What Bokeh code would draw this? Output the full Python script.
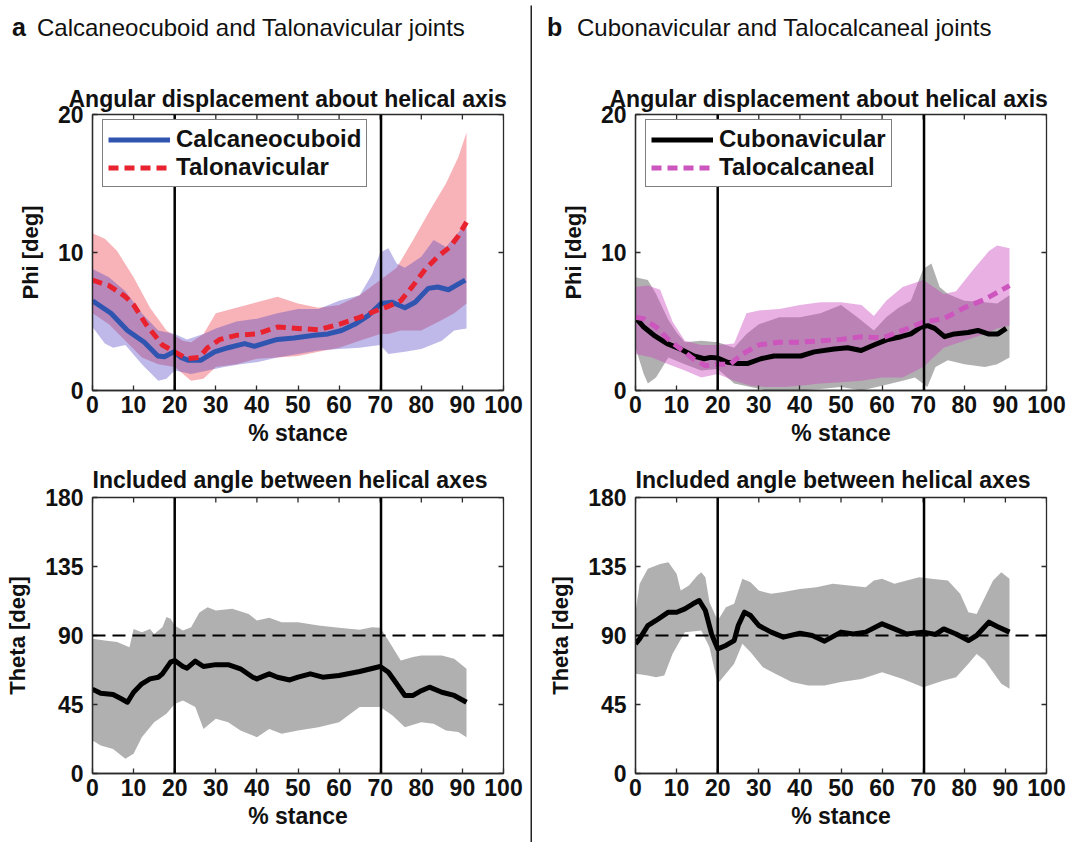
from bokeh.plotting import figure
from bokeh.models import FixedTicker, Legend, LegendItem, Span, Range1d, Title, Div
from bokeh.layouts import row, column
from bokeh.embed import file_html
from bokeh.resources import INLINE

# ---------------------------------------------------------------- data
stance_ticks = [0, 10, 20, 30, 40, 50, 60, 70, 80, 90, 100]
phi_ticks = [0, 10, 20]
theta_ticks = [0, 45, 90, 135, 180]
phase_marks = [20, 70.2]          # % stance where the phases change
orthogonal = 90                   # reference angle between axes

# Calcaneocuboid: mean phi and +/- SD band
cc_x = [0, 4.5, 8.5, 12.6, 15.9, 17.5, 19.8, 21.5, 23.2, 26.4, 29.7, 33, 37, 39.4, 42.7,
        45, 49, 54, 57.3, 60.6, 63.8, 67, 70.2, 72.8, 76, 78.5, 81.7, 84, 86.6, 90.7]
cc_phi = [6.5, 5.6, 4.35, 3.5, 2.5, 2.45, 2.8, 2.4, 2.2, 2.2, 2.8, 3.1, 3.4, 3.2, 3.5,
          3.7, 3.8, 4.0, 4.1, 4.35, 4.8, 5.4, 6.3, 6.4, 6.0, 6.4, 7.4, 7.5, 7.3, 8.0]
cc_hi_x = [0, 4, 8, 12, 16, 20, 23, 27, 30, 35, 40, 45, 50, 55, 60, 65, 68, 70, 72, 74,
           76, 80, 83, 86, 90, 91]
cc_hi = [8.8, 8.2, 7.2, 5.6, 4.35, 4.1, 3.7, 4.1, 4.5, 5.0, 5.2, 5.6, 5.9, 5.9, 6.5, 6.9,
         8.4, 10.0, 10.3, 9.2, 8.9, 9.7, 10.9, 10.4, 11.8, 11.8]
cc_lo_x = [0, 3, 5, 8, 12, 16, 18, 20, 24, 28, 32, 36, 40, 45, 50, 55, 60, 65, 70, 72,
           76, 80, 85, 88, 91]
cc_lo = [4.6, 3.4, 3.1, 3.3, 1.9, 0.7, 0.85, 1.45, 1.2, 1.45, 1.7, 1.9, 2.05, 2.4, 2.65,
         2.9, 3.0, 3.1, 3.3, 2.65, 2.8, 3.0, 3.6, 4.35, 4.5]

# Talonavicular
tn_x = [0, 4, 8, 10, 13, 17, 20, 23, 26, 28, 31, 35, 40, 45, 50, 55, 60, 65, 70, 72, 75,
        78, 81, 84, 87, 89, 91]
tn_phi = [8.0, 7.6, 6.8, 6.2, 4.8, 3.3, 2.8, 2.3, 2.4, 3.1, 3.7, 4.0, 4.1, 4.6, 4.5, 4.4,
          4.8, 5.3, 5.9, 6.1, 6.5, 7.6, 8.8, 9.7, 10.4, 11.2, 12.2]
tn_hi_x = [0, 3, 6, 10, 14, 18, 22, 24, 27, 30, 35, 40, 45, 50, 55, 60, 65, 70, 74, 78,
           82, 86, 89, 91]
tn_hi = [11.4, 11.0, 10.1, 8.2, 6.0, 4.35, 3.6, 3.5, 4.1, 5.6, 6.0, 6.4, 6.8, 6.3, 6.0,
         6.2, 6.9, 8.0, 8.9, 10.9, 13.0, 15.0, 16.9, 18.7]
tn_lo_x = [0, 4, 8, 12, 16, 20, 24, 27, 30, 35, 40, 45, 50, 55, 60, 65, 70, 72, 75, 80,
           85, 88, 91]
tn_lo = [5.6, 4.8, 3.6, 2.4, 1.9, 1.7, 0.7, 0.85, 1.7, 1.9, 2.3, 2.4, 2.5, 2.8, 3.1, 3.6,
         4.1, 4.1, 4.35, 4.35, 5.1, 5.6, 6.3]

# Cubonavicular
cn_x = [0, 2, 4.5, 7.7, 11, 14.2, 16.7, 18.3, 20, 22.4, 24.8, 27.2, 30.5, 33.7, 37, 40.2,
        43.5, 48.4, 51.6, 54.9, 58, 61.4, 64.6, 67, 69.5, 71.1, 72.8, 75.2, 77.6, 80.9,
        83.3, 85.8, 88.2, 90.2]
cn_phi = [5.3, 4.6, 4.0, 3.4, 3.0, 2.5, 2.3, 2.4, 2.35, 2.05, 1.95, 1.95, 2.3, 2.5, 2.5,
          2.5, 2.8, 3.0, 3.1, 2.9, 3.3, 3.7, 3.9, 4.1, 4.6, 4.7, 4.5, 3.9, 4.1, 4.2, 4.35,
          4.1, 4.1, 4.5]
cn_hi_x = [0, 3, 5, 8, 10, 12, 16, 20, 24, 27, 30, 35, 40, 45, 50, 54, 58, 61, 64, 67,
           70, 72, 74, 76, 80, 85, 88, 91]
cn_hi = [8.2, 8.0, 7.0, 5.1, 4.2, 3.5, 3.6, 3.5, 3.1, 4.1, 4.8, 5.3, 5.3, 5.6, 6.2, 5.3,
         4.35, 5.3, 6.0, 6.5, 8.8, 9.2, 7.5, 7.0, 6.5, 6.4, 6.3, 6.9]
cn_lo_x = [0, 2, 3, 5, 8, 12, 16, 20, 24, 28, 32, 40, 45, 50, 55, 60, 65, 68, 71, 73, 76,
           80, 85, 88, 91]
cn_lo = [3.1, 1.2, 0.5, 0.95, 2.4, 1.9, 1.45, 1.55, 0.5, 0.25, 0.0, 0.0, 0.1, 0.25, 0.0,
         0.35, 0.7, 0.95, 0.25, 1.7, 2.2, 1.9, 1.7, 1.9, 2.4]

# Talocalcaneal
tc_x = [0, 2, 5, 8, 11, 14, 17, 20, 23, 26, 30, 35, 40, 45, 50, 55, 60, 65, 70, 75, 80,
        85, 91]
tc_phi = [5.3, 5.2, 4.6, 3.7, 3.0, 2.3, 1.8, 1.9, 1.9, 2.65, 3.3, 3.5, 3.5, 3.6, 3.7, 3.9,
          3.8, 4.35, 4.95, 5.2, 6.0, 6.6, 7.6]
tc_hi_x = [0, 3, 6, 9, 12, 16, 20, 24, 27, 30, 35, 40, 45, 50, 55, 58, 61, 65, 70, 75,
           78, 82, 86, 88, 91]
tc_hi = [7.5, 7.6, 7.3, 5.0, 3.6, 3.3, 3.3, 3.4, 5.6, 5.8, 5.9, 6.2, 6.4, 6.4, 6.2, 5.4,
         6.5, 7.5, 8.0, 7.0, 7.2, 8.7, 10.1, 10.5, 10.3]
tc_lo_x = [0, 4, 8, 12, 16, 20, 24, 28, 32, 36, 40, 45, 50, 55, 60, 65, 70, 75, 80, 85,
           88, 91]
tc_lo = [2.65, 2.4, 1.9, 1.45, 0.95, 1.2, 0.7, 0.35, 0.25, 0.25, 0.35, 0.5, 0.6, 0.7,
         0.95, 0.95, 1.7, 3.1, 3.6, 4.1, 4.5, 4.7]

# Included angle between Calcaneocuboid and Talonavicular axes
ctn_x = [0, 2, 5, 7, 8.5, 10, 12, 14, 16, 17, 19, 20, 22, 23, 25, 27, 30, 33, 36, 39, 40,
         43, 45, 48, 50, 53, 56, 60, 65, 70, 72, 74, 76, 78, 80, 82, 85, 88, 91]
ctn_theta = [55, 52.4, 51.5, 48.7, 46.5, 53, 58.5, 61.7, 62.8, 65, 72.6, 73.7, 69.8, 68.7,
             73.3, 69.8, 71, 71, 68.3, 62.8, 61.7, 65, 62.8, 61, 62.8, 65, 62.8, 63.9,
             66.5, 69.8, 66, 58.5, 50.9, 50.9, 54, 56.3, 53, 50.9, 46.5]
ctn_hi_x = [0, 3, 6, 9, 10, 12, 14, 15, 17, 18, 19, 20, 22, 24, 26, 28, 30, 34, 38, 40,
            43, 46, 50, 55, 60, 65, 68, 70, 72, 75, 78, 80, 85, 88, 91]
ctn_hi = [87.8, 86.7, 85.7, 82.4, 94.3, 92.2, 94.3, 91, 95.4, 102, 101, 96.5, 93.3, 95.4,
          105, 108.5, 106.3, 107.4, 104, 99.8, 101.5, 98.7, 98.7, 96.5, 95, 93.7, 95.4,
          95, 86.7, 73.7, 75.9, 77, 77, 74.8, 68.3]
ctn_lo_x = [0, 2, 5, 8, 10, 12, 15, 18, 20, 22, 25, 27, 30, 33, 36, 40, 43, 46, 50, 55,
            60, 65, 70, 73, 76, 80, 83, 86, 89, 91]
ctn_lo = [21.5, 18.3, 16, 9.6, 12.8, 23.7, 33.5, 38.9, 45.4, 47.6, 43.3, 29.1, 35.7, 33.5,
          28, 23.7, 29.1, 25.9, 28, 30.2, 33.5, 43.3, 43.3, 37.8, 30.2, 33.5, 32.4, 28,
          27, 23.7]

# Included angle between Cubonavicular and Talocalcaneal axes
cnt_x = [0, 1, 3, 5, 8, 10, 12, 14, 15.5, 17, 18.5, 20, 22, 24, 25, 26.5, 28, 30, 33, 36,
         40, 43, 46, 50, 53, 56, 60, 63, 66, 70, 73, 75, 78, 81, 83, 86, 88, 91]
cnt_theta = [84.6, 87.8, 96.5, 99.8, 105.2, 105.2, 107.4, 110.7, 112.8, 106.3, 91, 81.3,
             83.5, 86.7, 96.5, 105.2, 103, 96.5, 92.2, 88.9, 91.5, 90, 86.3, 92.2, 91,
             92.2, 97.6, 94.3, 91, 92.2, 90.7, 94.3, 91, 86.7, 90, 98.7, 95.9, 92.2]
cnt_hi_x = [0, 1, 3, 6, 8, 10, 11, 13, 15, 16, 17, 18, 20, 21, 22, 24, 26, 28, 30, 33,
            36, 40, 44, 48, 52, 56, 58, 60, 63, 66, 69, 72, 76, 79, 81, 83, 85, 87, 89, 91]
cnt_hi = [105.2, 123.7, 133.5, 136.7, 137.8, 130.2, 119.3, 122.6, 129, 131.3, 128, 111.7,
          99.8, 104.1, 108.5, 110.7, 127, 124.8, 119.3, 117.2, 118.3, 120.4, 121.5, 123.7,
          122.6, 121.5, 125.9, 127, 123.7, 125.9, 128, 127, 125.9, 117.2, 105.2, 104.1,
          115, 125.9, 131.3, 127]
cnt_lo_x = [0, 3, 5, 7, 9, 12, 16, 18, 20, 22, 24, 26, 28, 31, 34, 38, 42, 46, 50, 55,
            60, 65, 70, 75, 78, 81, 83, 85, 87, 89, 91]
cnt_lo = [65, 63.9, 62.8, 63.9, 78, 92.2, 93.3, 82.4, 58.5, 65, 71.5, 84.6, 79.1, 69.3,
          65, 59.6, 57.4, 57.4, 59.6, 61.7, 66, 61.7, 56.3, 60.7, 62.8, 71.5, 78, 73.7,
          66, 58.5, 55.2]

# ---------------------------------------------------------------- styling
FONT = "Liberation Sans"
AX_COL = "#2b2b2b"
TXT_COL = "#111111"
FRAME_W, FRAME_H = 411, 276
TICK_LEN = 5
HEADER_H = 60


def band(p, xs_hi, hi, xs_lo, lo, color, alpha):
    p.patch(x=list(xs_hi) + list(xs_lo)[::-1], y=list(hi) + list(lo)[::-1],
            fill_color=color, fill_alpha=alpha, line_color=None)


def box_ticks(p, y_end, y_ticks):
    # inward tick marks along the top and right edges of the box
    dy = TICK_LEN * y_end / FRAME_H
    dx = TICK_LEN * 100 / FRAME_W
    p.segment(x0=stance_ticks, x1=stance_ticks,
              y0=[y_end] * len(stance_ticks), y1=[y_end - dy] * len(stance_ticks),
              line_color=AX_COL, line_width=1.3)
    p.segment(x0=[100] * len(y_ticks), x1=[100 - dx] * len(y_ticks),
              y0=y_ticks, y1=y_ticks, line_color=AX_COL, line_width=1.3)


def panel(width, left, top, bottom, y_end, y_ticks, y_label, title, title_offset, standoff):
    height = top + FRAME_H + bottom
    p = figure(width=width, height=height, x_range=Range1d(0, 100), y_range=Range1d(0, y_end),
               output_backend="svg", toolbar_location=None, tools="",
               min_border_left=left, min_border_right=width - left - FRAME_W,
               min_border_top=top, min_border_bottom=bottom)
    p.grid.visible = False
    p.outline_line_color = AX_COL
    p.outline_line_width = 1.3
    p.outline_line_alpha = 1
    p.background_fill_color = "white"
    p.border_fill_color = "white"

    p.xaxis.ticker = FixedTicker(ticks=stance_ticks)
    p.yaxis.ticker = FixedTicker(ticks=y_ticks)
    p.xaxis.axis_label = "% stance"
    p.yaxis.axis_label = y_label
    for ax in (p.xaxis[0], p.yaxis[0]):
        ax.major_tick_in = TICK_LEN
        ax.major_tick_out = 0
        ax.minor_tick_line_color = None
        ax.axis_line_color = AX_COL
        ax.axis_line_width = 1.3
        ax.major_tick_line_color = AX_COL
        ax.major_tick_line_width = 1.3
        ax.major_label_text_font = FONT
        ax.major_label_text_font_style = "bold"
        ax.major_label_text_font_size = "23px"
        ax.major_label_text_color = TXT_COL
        ax.axis_label_text_font = FONT
        ax.axis_label_text_font_style = "bold"
        ax.axis_label_text_color = TXT_COL
    p.xaxis.axis_label_text_font_size = "23px"
    p.yaxis.axis_label_text_font_size = "22px"
    p.xaxis.major_label_standoff = 5
    p.xaxis.axis_label_standoff = 4
    p.yaxis.major_label_standoff = 9
    p.yaxis.axis_label_standoff = 12

    box_ticks(p, y_end, y_ticks)

    p.add_layout(Title(text=title, align="left", offset=title_offset, standoff=standoff,
                       text_font=FONT, text_font_style="bold", text_font_size="23px",
                       text_color=TXT_COL), "above")
    return p


def marks(p):
    for m in phase_marks:
        p.add_layout(Span(location=m, dimension="height", line_color="black", line_width=2.5))


def header(width, letter, text, pad_left, letter_w):
    html = (
        f'<div style="font-family:\'{FONT}\',Arial,sans-serif;font-size:24px;color:{TXT_COL};'
        f'line-height:28px;white-space:nowrap;padding:13px 0 0 {pad_left}px;">'
        f'<span style="display:inline-block;width:{letter_w}px;font-weight:bold;'
        f'font-size:25px;">{letter}</span>{text}</div>'
    )
    return Div(text=html, width=width, height=HEADER_H, margin=0)


def legend(p, items):
    lg = Legend(items=items, location=(10, 203), border_line_color="black",
                border_line_width=1.3, background_fill_color="white", background_fill_alpha=1,
                label_text_font=FONT, label_text_font_style="bold", label_text_font_size="24px",
                label_text_color=TXT_COL, glyph_width=62, glyph_height=27, label_height=27,
                label_standoff=6, padding=5, spacing=0, margin=0)
    p.add_layout(lg)


ANG_TOP = "Angular displacement about helical axis"
ANG_BOT = "Included angle between helical axes"
LEFT_W, RIGHT_W = 530, 537
TOP_T, TOP_B = 114 - HEADER_H, 65
BOT_T, BOT_B = 42, 69

# ---- a: calcaneocuboid / talonavicular
h_a = header(LEFT_W, "a", "Calcaneocuboid and Talonavicular joints", 12, 25)

p_a1 = panel(LEFT_W, 92, TOP_T, TOP_B, 20, phi_ticks, "Phi [deg]", ANG_TOP, -24, 6)
band(p_a1, tn_hi_x, tn_hi, tn_lo_x, tn_lo, "#eb3240", 0.37)
band(p_a1, cc_hi_x, cc_hi, cc_lo_x, cc_lo, "#4a3cc0", 0.36)
marks(p_a1)
r_cc = p_a1.line(cc_x, cc_phi, line_color="#2f55b0", line_width=5, line_join="round")
r_tn = p_a1.line(tn_x, tn_phi, line_color="#e8222e", line_width=5, line_dash="10 6")
legend(p_a1, [LegendItem(label="Calcaneocuboid", renderers=[r_cc]),
              LegendItem(label="Talonavicular", renderers=[r_tn])])

p_a2 = panel(LEFT_W, 92, BOT_T, BOT_B, 180, theta_ticks, "Theta [deg]", ANG_BOT, 0, 9)
band(p_a2, ctn_hi_x, ctn_hi, ctn_lo_x, ctn_lo, "#000000", 0.31)
p_a2.add_layout(Span(location=orthogonal, dimension="width", line_color="black",
                     line_width=2, line_dash="13 7"))
marks(p_a2)
p_a2.line(ctn_x, ctn_theta, line_color="black", line_width=5, line_join="round")

# ---- b: cubonavicular / talocalcaneal
h_b = header(RIGHT_W, "b", "Cubonavicular and Talocalcaneal joints", 15, 30)

p_b1 = panel(RIGHT_W, 103, TOP_T, TOP_B, 20, phi_ticks, "Phi [deg]", ANG_TOP, -26, 6)
band(p_b1, cn_hi_x, cn_hi, cn_lo_x, cn_lo, "#000000", 0.31)
band(p_b1, tc_hi_x, tc_hi, tc_lo_x, tc_lo, "#c843bd", 0.42)
marks(p_b1)
r_cn = p_b1.line(cn_x, cn_phi, line_color="black", line_width=5, line_join="round")
r_tc = p_b1.line(tc_x, tc_phi, line_color="#cc55be", line_width=5, line_dash="10 6")
legend(p_b1, [LegendItem(label="Cubonavicular", renderers=[r_cn]),
              LegendItem(label="Talocalcaneal", renderers=[r_tc])])

p_b2 = panel(RIGHT_W, 103, BOT_T, BOT_B, 180, theta_ticks, "Theta [deg]", ANG_BOT, 0, 9)
band(p_b2, cnt_hi_x, cnt_hi, cnt_lo_x, cnt_lo, "#000000", 0.31)
p_b2.add_layout(Span(location=orthogonal, dimension="width", line_color="black",
                     line_width=2, line_dash="13 7"))
marks(p_b2)
p_b2.line(cnt_x, cnt_theta, line_color="black", line_width=5, line_join="round")

# thin rule separating the two halves
divider = figure(width=2, height=842, output_backend="svg", toolbar_location=None, tools="",
                 x_axis_type=None, y_axis_type=None, min_border=0, min_border_top=5,
                 background_fill_color="#222222", border_fill_color="white",
                 outline_line_color=None)
divider.grid.visible = False

layout = row(column(h_a, p_a1, p_a2), divider, column(h_b, p_b1, p_b2))

with open("out.html", "w") as f:
    f.write(file_html(layout, INLINE))
